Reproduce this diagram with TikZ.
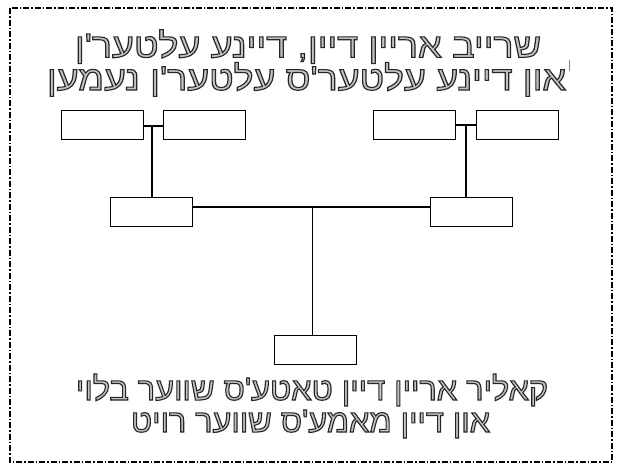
\documentclass[tikz,border=0pt]{standalone}
\usepackage{fontspec}
\usepackage{graphicx}
\newfontfamily\hebfont[Script=Hebrew]{Liberation Sans}
\TeXXeTstate=1
\definecolor{txtfill}{HTML}{C4C4C4}
\newcommand{\outl}[2]{\resizebox{#1}{\height}{\color{txtfill}\special{pdf:literal direct 2 Tr 1.1 w 0.15 G}#2}}
\tikzset{
  famboxst/.style={draw=black, line width=1pt, minimum width=82pt, minimum height=29pt, inner sep=0pt},
  linkst/.style={draw=black, line width=1.2pt},
  titlest/.style={anchor=base, inner sep=0pt, font=\hebfont\fontsize{34}{34}\selectfont},
  notest/.style={anchor=base, inner sep=0pt, font=\hebfont\fontsize{32}{32}\selectfont},
}
\begin{document}
\begin{tikzpicture}[x=1pt,y=-1pt]
\useasboundingbox (0,0) rectangle (621,472);
\fill[white] (0,0) rectangle (621,472);
\draw[line width=1.3pt, dash pattern=on 6pt off 2pt on 1.5pt off 2pt] (10,8) rectangle (612,462);
% title
\node[titlest] (t1) at (308,57.3) {\outl{466pt}{\beginR שרייב אריין דיין, דיינע עלטער'ן\endR}};
\node[titlest] (t2) at (306.5,90) {\outl{519pt}{\beginR און דיינע עלטער'ס עלטער'ן נעמען\endR}};
\draw[gray, line width=0.6pt] (569,60) -- (569,71);
% boxes
\node[famboxst] (b1) at (102,124.5) {};
\node[famboxst] (b2) at (204.5,124.5) {};
\node[famboxst] (b3) at (414.5,124.5) {};
\node[famboxst] (b4) at (517,124.5) {};
\node[famboxst] (m1) at (151,211.5) {};
\node[famboxst] (m2) at (471,211.5) {};
\node[famboxst] (c) at (315,349.5) {};
\coordinate (j1) at (152,126);
\coordinate (j2) at (466,125);
\coordinate (j3) at (312.5,207);
\draw[linkst] (b1.east |- j1) -- (b2.west |- j1);
\draw[linkst] (j1) -- (j1 |- m1.north);
\draw[linkst] (b3.east |- j2) -- (b4.west |- j2);
\draw[linkst] (j2) -- (j2 |- m2.north);
\draw[linkst] (m1.east |- j3) -- (m2.west |- j3);
\draw[linkst] (j3) -- (j3 |- c.north);
% bottom text
\node[notest] (n1) at (312,400) {\outl{472pt}{\beginR קאליר אריין דיין טאטע'ס שווער בלוי\endR}};
\node[notest] (n2) at (310.5,432) {\outl{359pt}{\beginR און דיין מאמע'ס שווער רויט\endR}};
\end{tikzpicture}
\end{document}
